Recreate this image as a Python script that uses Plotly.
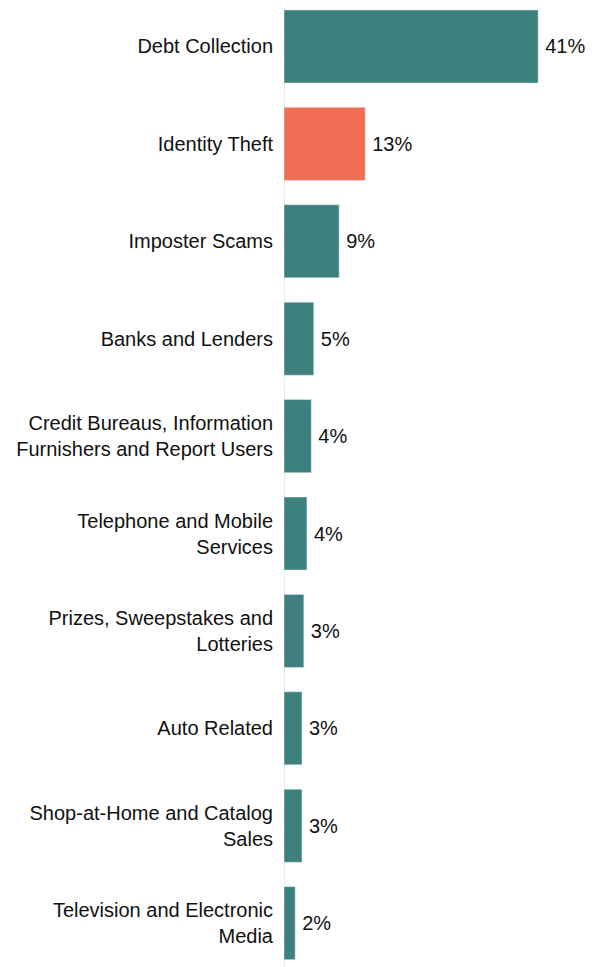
import plotly.graph_objects as go

# categorie e valori (percentuale dei reclami)
categories = [
    "Debt Collection",
    "Identity Theft",
    "Imposter Scams",
    "Banks and Lenders",
    "Credit Bureaus, Information<br>Furnishers and Report Users",
    "Telephone and Mobile<br>Services",
    "Prizes, Sweepstakes and<br>Lotteries",
    "Auto Related",
    "Shop-at-Home and Catalog<br>Sales",
    "Television and Electronic<br>Media",
]
values = [41.0, 13.1, 8.9, 4.8, 4.4, 3.7, 3.2, 2.9, 2.9, 1.8]
highlight = "Identity Theft"

teal = "rgb(61,128,125)"
orange = "rgb(240,110,84)"
colors = [orange if c == highlight else teal for c in categories]

fig = go.Figure()
fig.add_trace(go.Bar(
    x=values,
    y=categories,
    orientation="h",
    marker_color=colors,
    width=0.75,
    texttemplate="\u2009%{x:.0f}%",
    textposition="outside",
    textfont=dict(size=20, color="#111"),
    cliponaxis=False,
))

fig.update_xaxes(range=[0, 51.3], showgrid=False, showticklabels=False,
                 zeroline=True, zerolinecolor="#ececec", zerolinewidth=1,
                 automargin=False)
fig.update_yaxes(categoryorder="array", categoryarray=categories,
                 range=[9.45, -0.395], showgrid=False, automargin=False,
                 ticks="outside", ticklen=6, tickcolor="rgba(0,0,0,0)",
                 tickfont=dict(size=20, color="#111"))

# la pagina ha 8px di margine nel body
fig.update_layout(
    width=594, height=959,
    margin=dict(l=276, r=0, t=0, b=0, autoexpand=False),
    plot_bgcolor="white", paper_bgcolor="white",
    font=dict(family="Liberation Sans, Arial, sans-serif"),
    showlegend=False,
)

fig.write_html("out.html")
